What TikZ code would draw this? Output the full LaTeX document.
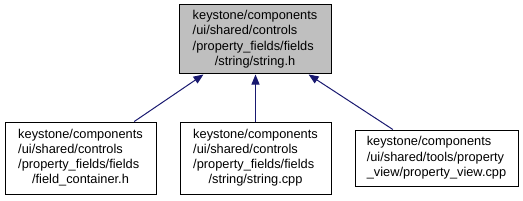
\documentclass[tikz,border=0pt]{standalone}
\usepackage{fontspec}
\setmainfont{Liberation Sans}
\usetikzlibrary{arrows.meta}
\definecolor{edgeblue}{HTML}{191970}
\newcommand{\lastrow}[1]{\multicolumn{1}{@{}c@{}}{#1}}
\tikzset{
  file/.style={draw=black, line width=0.75pt, inner sep=0pt, font=\fontsize{9.6}{11.3}\selectfont},
  dep/.style={-{Triangle[length=7.5pt,width=6pt]}, edgeblue, line width=0.75pt},
}
\begin{document}
\begin{tikzpicture}[x=0.75pt, y=0.75pt]
\useasboundingbox (0,0) rectangle (523,200);
\node[file, fill=gray!50, minimum width=114pt, minimum height=51.75pt] (strh) at (255,160.5)
  {\begin{tabular}{@{}l@{}}keystone/components\\/ui/shared/controls\\/property\_fields/fields\\\lastrow{/string/string.h}\end{tabular}};
\node[file, minimum width=113.25pt, minimum height=54pt] (fcont) at (80.5,42)
  {\begin{tabular}{@{}l@{}}keystone/components\\/ui/shared/controls\\/property\_fields/fields\\\lastrow{/field\_container.h}\end{tabular}};
\node[file, minimum width=113.25pt, minimum height=54pt] (strcpp) at (255.5,42)
  {\begin{tabular}{@{}l@{}}keystone/components\\/ui/shared/controls\\/property\_fields/fields\\\lastrow{/string/string.cpp}\end{tabular}};
\node[file, minimum width=122.25pt, minimum height=42pt] (pview) at (436.5,42)
  {\begin{tabular}{@{}l@{}}keystone/components\\/ui/shared/tools/property\\\lastrow{\_view/property\_view.cpp}\end{tabular}};
% dependency edges
\draw[dep] (fcont) -- (strh);
\draw[dep] (strcpp.north) -- (strcpp.north |- strh.south);
\draw[dep] (pview) -- (strh);
\end{tikzpicture}
\end{document}
